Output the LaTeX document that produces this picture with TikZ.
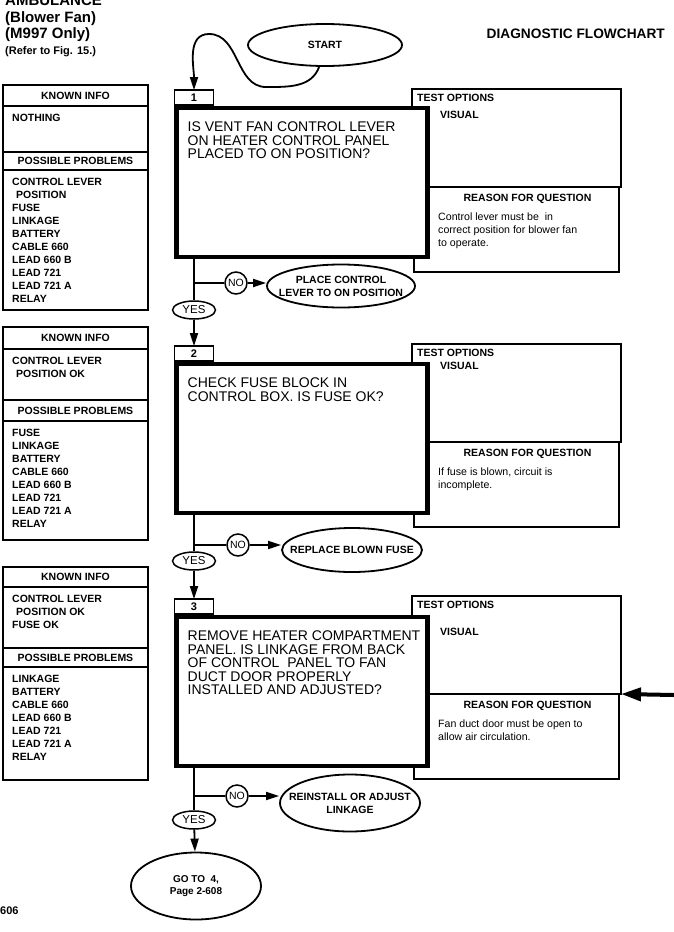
\documentclass[tikz,border=0pt]{standalone}
\usepackage{fontspec}
\setmainfont{Liberation Sans}
\usepackage{tikz}
\usetikzlibrary{arrows.meta,positioning,shapes.geometric}
\tikzset{
  qbox/.style={draw,line width=4.5pt,fill=white,outer sep=0pt,inner sep=0pt,
              minimum width=251pt,minimum height=149pt},
  tabbox/.style={draw,line width=1.3pt,fill=white,outer sep=0pt,inner sep=0pt,
              minimum width=39pt,minimum height=15pt,font=\fontsize{11}{11}\selectfont\bfseries},
  testbox/.style={draw,line width=2.2pt,outer sep=0pt,inner sep=0pt,
              minimum width=209pt,minimum height=98pt},
  whybox/.style={draw,line width=1.4pt,outer sep=0pt,inner sep=0pt,
              minimum width=205pt,minimum height=85pt},
  headbox/.style={draw,line width=1.3pt,outer sep=0pt,inner sep=0pt,
              minimum width=145pt,font=\fontsize{10.5}{10.5}\selectfont\bfseries},
  listbox/.style={draw,line width=1.3pt,outer sep=0pt,inner sep=0pt,minimum width=145pt},
  itemtext/.style={inner sep=0pt,align=left,font=\fontsize{10.5}{13}\selectfont\bfseries},
  qtext/.style={inner sep=0pt,align=left,font=\fontsize{14}{13.4}\selectfont},
  testhead/.style={inner sep=0pt,font=\fontsize{10.5}{10.5}\selectfont\bfseries},
  whytext/.style={inner sep=0pt,align=left,font=\fontsize{10.6}{12.7}\selectfont},
  fixoval/.style={ellipse,draw,line width=1.8pt,inner xsep=-40pt,inner ysep=0pt,align=center,
              font=\fontsize{10.5}{13}\selectfont\bfseries},
  endoval/.style={ellipse,draw,line width=1.8pt,inner sep=0pt,align=center,
              font=\fontsize{10.5}{12}\selectfont\bfseries},
  yesoval/.style={ellipse,draw,line width=1.5pt,inner sep=0pt,minimum width=43pt,
              minimum height=18pt,font=\fontsize{11.5}{11.5}\selectfont},
  nocircle/.style={circle,draw,line width=1.5pt,inner sep=0pt,minimum size=22pt,
              font=\fontsize{10.5}{10.5}\selectfont},
  titletext/.style={inner sep=0pt,font=\fontsize{15}{15}\selectfont\bfseries},
  link/.style={line width=1.8pt},
  flow/.style={-{Triangle[length=13pt,width=8pt]},line width=1.8pt},
  bigflow/.style={-{Triangle[length=20pt,width=13pt]},line width=4pt}
}
\begin{document}
\begin{tikzpicture}[x=1pt,y=-1pt]
  \fill[white] (0,0) rectangle (674,932);
  \useasboundingbox (0,0) rectangle (674,932);

  % heading
  \node[titletext,anchor=base west] (vehicle) at (5,5) {AMBULANCE};
  \node[titletext,anchor=base west] (blower) at (5,22.5) {(Blower Fan)};
  \node[titletext,anchor=base west] (model) at (5,38.5) {(M997 Only)};
  \node[titletext,font=\fontsize{11}{11}\selectfont\bfseries,anchor=base west] (figref) at (5,54) {(Refer to Fig. 15.)};
  \node[titletext,font=\fontsize{13.7}{14}\selectfont\bfseries,anchor=base east] (chart) at (665,38) {DIAGNOSTIC FLOWCHART};
  \node[titletext,font=\fontsize{11}{11}\selectfont\bfseries,anchor=base west] (pageno) at (0,914) {606};

  \node[endoval,minimum width=154pt,minimum height=42pt] (start) at (325,45) {START};

  % step 1
  \node[headbox,minimum height=21pt,anchor=north west] (known1) at (3,85) {KNOWN INFO};
  \node[listbox,minimum height=46pt,below=0pt of known1] (knownlist1) {};
  \node[headbox,minimum height=18pt,below=0pt of knownlist1] (probs1) {POSSIBLE PROBLEMS};
  \node[listbox,minimum height=140pt,below=0pt of probs1] (probslist1) {};
  \node[itemtext,below right=8pt and 9pt of knownlist1.north west] (knowntext1) {NOTHING};
  \node[itemtext,below right=8pt and 9pt of probslist1.north west] (probstext1)
    {CONTROL LEVER\\\hspace{4pt}POSITION\\FUSE\\LINKAGE\\BATTERY\\CABLE 660\\LEAD 660 B\\LEAD 721\\LEAD 721 A\\RELAY};

  \node[testbox] (test1) at (516.5,138) {};
  \node[whybox,below=0pt of test1] (why1) {};
  \node[qbox] (q1) at (302,182.5) {};
  \node[tabbox,above right=3pt and -2pt of q1.north west] (tab1) {1};
  \node[qtext,below right=14pt and 11pt of q1.north west] (qtext1)
    {IS VENT FAN CONTROL LEVER\\ON HEATER CONTROL PANEL\\PLACED TO ON POSITION?};
  \node[testhead,below right=5pt and 5pt of test1.north west] (testtitle1) {TEST OPTIONS};
  \node[testhead,anchor=west] (visual1) at (440,115) {VISUAL};
  \node[testhead,below=7pt of why1.north,xshift=11pt] (whytitle1) {REASON FOR QUESTION};
  \node[whytext,below right=26pt and 24pt of why1.north west] (whytext1)
    {Control lever must be\ \ in\\correct position for blower fan\\to operate.};
  \node[nocircle] (no1) at (236,283) {NO};
  \node[yesoval] (yes1) at (194,310) {YES};
  \node[fixoval,minimum width=148pt,minimum height=43pt] (fix1) at (341,286) {PLACE CONTROL\\LEVER TO ON POSITION};

  % step 2
  \node[headbox,minimum height=22pt,anchor=north west] (known2) at (3,327) {KNOWN INFO};
  \node[listbox,minimum height=51pt,below=0pt of known2] (knownlist2) {};
  \node[headbox,minimum height=21pt,below=0pt of knownlist2] (probs2) {POSSIBLE PROBLEMS};
  \node[listbox,minimum height=119pt,below=0pt of probs2] (probslist2) {};
  \node[itemtext,below right=8pt and 9pt of knownlist2.north west] (knowntext2)
    {CONTROL LEVER\\\hspace{4pt}POSITION OK};
  \node[itemtext,below right=8pt and 9pt of probslist2.north west] (probstext2)
    {FUSE\\LINKAGE\\BATTERY\\CABLE 660\\LEAD 660 B\\LEAD 721\\LEAD 721 A\\RELAY};

  \node[testbox] (test2) at (516.5,393) {};
  \node[whybox,below=0pt of test2] (why2) {};
  \node[qbox] (q2) at (302,438.5) {};
  \node[tabbox,above right=3pt and -2pt of q2.north west] (tab2) {2};
  \node[qtext,below right=14pt and 11pt of q2.north west] (qtext2)
    {CHECK FUSE BLOCK IN\\CONTROL BOX. IS FUSE OK?};
  \node[testhead,below right=5pt and 5pt of test2.north west] (testtitle2) {TEST OPTIONS};
  \node[testhead,anchor=west] (visual2) at (440,366) {VISUAL};
  \node[testhead,below=7pt of why2.north,xshift=11pt] (whytitle2) {REASON FOR QUESTION};
  \node[whytext,below right=26pt and 24pt of why2.north west] (whytext2)
    {If fuse is blown, circuit is\\incomplete.};
  \node[nocircle] (no2) at (238,545) {NO};
  \node[yesoval] (yes2) at (194,561) {YES};
  \node[fixoval,minimum width=140pt,minimum height=44pt] (fix2) at (352,550) {REPLACE BLOWN FUSE};

  % step 3
  \node[headbox,minimum height=20pt,anchor=north west] (known3) at (3,567) {KNOWN INFO};
  \node[listbox,minimum height=61pt,below=0pt of known3] (knownlist3) {};
  \node[headbox,minimum height=19pt,below=0pt of knownlist3] (probs3) {POSSIBLE PROBLEMS};
  \node[listbox,minimum height=113pt,below=0pt of probs3] (probslist3) {};
  \node[itemtext,below right=8pt and 9pt of knownlist3.north west] (knowntext3)
    {CONTROL LEVER\\\hspace{4pt}POSITION OK\\FUSE OK};
  \node[itemtext,below right=8pt and 9pt of probslist3.north west] (probstext3)
    {LINKAGE\\BATTERY\\CABLE 660\\LEAD 660 B\\LEAD 721\\LEAD 721 A\\RELAY};

  \node[testbox] (test3) at (516.5,645) {};
  \node[whybox,below=0pt of test3] (why3) {};
  \node[qbox] (q3) at (302,691.5) {};
  \node[tabbox,above right=3pt and -2pt of q3.north west] (tab3) {3};
  \node[qtext,below right=14pt and 11pt of q3.north west] (qtext3)
    {REMOVE HEATER COMPARTMENT\\PANEL. IS LINKAGE FROM BACK\\OF CONTROL\ \ PANEL TO FAN\\DUCT DOOR PROPERLY\\INSTALLED AND ADJUSTED?};
  \node[testhead,below right=5pt and 5pt of test3.north west] (testtitle3) {TEST OPTIONS};
  \node[testhead,anchor=west] (visual3) at (440,632) {VISUAL};
  \node[testhead,below=7pt of why3.north,xshift=11pt] (whytitle3) {REASON FOR QUESTION};
  \node[whytext,below right=26pt and 24pt of why3.north west] (whytext3)
    {Fan duct door must be open to\\allow air circulation.};
  \node[nocircle] (no3) at (237,796) {NO};
  \node[yesoval] (yes3) at (194,820) {YES};
  \node[fixoval,minimum width=140pt,minimum height=57pt] (fix3) at (350,803) {REINSTALL OR ADJUST\\LINKAGE};
  \node[fixoval,font=\fontsize{10}{12}\selectfont\bfseries,minimum width=130pt,minimum height=67pt] (goto) at (196,886) {GO TO\ \ 4,\\Page 2-608};

  % connectors
  \coordinate (loopbot) at (266,87);
  \coordinate (looptop) at (209,34);
  \draw[flow] (start.255) to[out=250,in=0] (loopbot) to[out=180,in=0] (looptop) to[out=180,in=90] (tab1.north);

  \draw[link] (q1.south -| tab1) -- (yes1);
  \draw[link] (no1 -| tab1) -- (no1);
  \draw[flow] (no1) -- (no1 -| fix1.west);
  \draw[flow] (yes1) -- (tab2);

  \draw[link] (q2.south -| tab2) -- (yes2);
  \draw[link] (no2 -| tab2) -- (no2);
  \draw[flow] (no2) -- (no2 -| fix2.west);
  \draw[flow] (yes2) -- (tab3);

  \draw[link] (q3.south -| tab3) -- (yes3);
  \draw[link] (no3 -| tab3) -- (no3);
  \draw[flow] (no3) -- (no3 -| fix3.west);
  \draw[flow] (yes3) -- (goto);

  \coordinate (pointer) at (674,695);
  \draw[bigflow] (pointer) -- (test3.south east);
\end{tikzpicture}
\end{document}
